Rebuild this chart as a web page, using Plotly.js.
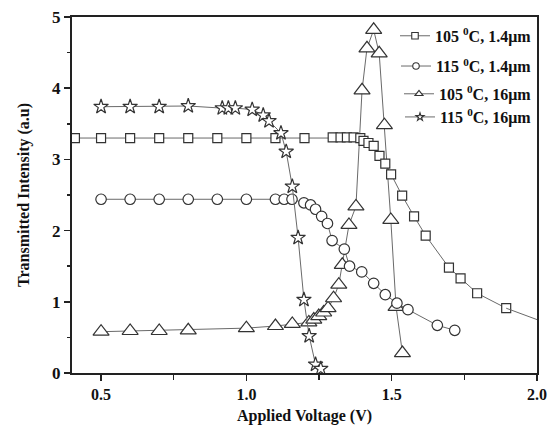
<!DOCTYPE html>
<html>
<head>
<meta charset="utf-8">
<script src="https://cdn.plot.ly/plotly-3.0.1.min.js"></script>
<style>html,body{margin:0;padding:0;background:#fff;}#chart{width:550px;height:437px;}</style>
</head>
<body>
<div id="chart"></div>
<script>
// Series names
var names = ["105 <sup>0</sup>C, 1.4\u03bcm", "115 <sup>0</sup>C, 1.4\u03bcm", "105 <sup>0</sup>C, 16\u03bcm", "115 <sup>0</sup>C, 16\u03bcm"];

// 105 C, 1.4um (squares)
var sqX = [0.41,0.5,0.6,0.7,0.8,0.9,1.0,1.1,1.2,1.297,1.324,1.346,1.369,1.392,1.403,1.42,1.438,1.458,1.478,1.498,1.536,1.577,1.617,1.697,1.737,1.794,1.894];
var sqY = [3.3,3.3,3.3,3.3,3.3,3.3,3.3,3.3,3.3,3.31,3.31,3.31,3.31,3.30,3.26,3.23,3.19,3.05,2.94,2.79,2.49,2.20,1.93,1.48,1.33,1.12,0.91];
// fitted line continuation past last square
var sqTailX = [1.894, 2.0];
var sqTailY = [0.91, 0.75];

// 115 C, 1.4um (circles)
var ciX = [0.5,0.6,0.7,0.8,0.9,1.0,1.1,1.13,1.157,1.198,1.221,1.238,1.259,1.279,1.295,1.337,1.355,1.397,1.438,1.478,1.518,1.556,1.657,1.717];
var ciY = [2.44,2.44,2.44,2.44,2.44,2.44,2.44,2.44,2.44,2.39,2.36,2.30,2.20,2.10,1.86,1.74,1.50,1.42,1.26,1.10,0.98,0.89,0.67,0.60];

// 105 C, 16um (triangles)
var trX = [0.5,0.6,0.7,0.8,1.0,1.1,1.158,1.215,1.232,1.249,1.266,1.281,1.30,1.318,1.33,1.353,1.377,1.398,1.415,1.438,1.457,1.475,1.497,1.515,1.537];
var trY = [0.58,0.59,0.59,0.60,0.63,0.66,0.69,0.71,0.75,0.80,0.85,0.91,1.05,1.24,1.52,2.08,2.34,3.97,4.56,4.82,4.49,3.48,2.15,0.93,0.28];

// 115 C, 16um (stars)
var stX = [0.5,0.6,0.7,0.8,0.917,0.938,0.962,1.02,1.058,1.078,1.119,1.137,1.158,1.178,1.198,1.216,1.238,1.256];
var stY = [3.74,3.74,3.74,3.75,3.72,3.72,3.72,3.70,3.62,3.54,3.37,3.11,2.62,1.90,1.03,0.52,0.12,0.06];

var xTickVals = [0.5,1.0,1.5,2.0];
var xTickText = ["0.5","1.0","1.5","2.0"];
var yTickVals = [0,1,2,3,4,5];
var yTickText = ["0","1","2","3","4","5"];

var FONT = "Liberation Serif, Times New Roman, serif";
var lineC = "#6a6a6a", mkC = "#333";

function main(x, y, sym, size){
  return {x:x, y:y, type:"scatter", mode:"lines+markers", showlegend:false,
    line:{color:lineC, width:1},
    marker:{symbol:sym, size:size, color:"#fff", line:{color:mkC, width:1.2}}};
}
function leg(name, sym, size, lg){
  return {x:[null], y:[null], type:"scatter", mode:"lines+markers", name:name, legend:lg, showlegend:true,
    line:{color:lineC, width:1},
    marker:{symbol:sym, size:size, color:"#fff", line:{color:mkC, width:1.1}}};
}

var data = [
  main(trX, trY, "triangle-up", 14),
  main(sqX, sqY, "square", 9),
  {x:sqTailX, y:sqTailY, type:"scatter", mode:"lines", showlegend:false, line:{color:lineC, width:1}},
  main(ciX, ciY, "circle", 10.5),
  main(stX, stY, "star", 11),
  leg(names[0], "square", 6.5, "legend"),
  leg(names[1], "circle", 6.5, "legend2"),
  leg(names[2], "triangle-up", 7, "legend3"),
  leg(names[3], "star", 6, "legend4")
];

function lg(y){
  return {x:1.0, xanchor:"right", y:y, yanchor:"middle", bgcolor:"rgba(0,0,0,0)",
    font:{family:FONT, size:16, color:"#111", weight:"bold"}};
}

var layout = {
  width:550, height:437,
  margin:{l:72, r:13, t:17, b:64},
  paper_bgcolor:"#fff", plot_bgcolor:"#fff",
  xaxis:{range:[0.4,2.0], tickvals:xTickVals, ticktext:xTickText, ticks:"outside", ticklen:6, tickwidth:1.5, tickcolor:"#222",
    minor:{dtick:0.25, tick0:0, ticks:"outside", ticklen:5, tickwidth:1.5, tickcolor:"#222"},
    showline:true, linecolor:"#222", linewidth:2, mirror:true, showgrid:false, zeroline:false,
    tickfont:{family:FONT, size:16, color:"#111", weight:"bold"},
    title:{text:"Applied Voltage (V)", font:{family:FONT, size:16, color:"#111", weight:"bold"}, standoff:8}},
  yaxis:{range:[0,5], tickvals:yTickVals, ticktext:yTickText, ticks:"outside", ticklen:6, tickwidth:1.5, tickcolor:"#222",
    minor:{dtick:0.5, tick0:0, ticks:"outside", ticklen:3, tickwidth:1.5, tickcolor:"#222"},
    showline:true, linecolor:"#222", linewidth:2, mirror:true, showgrid:false, zeroline:false,
    tickfont:{family:FONT, size:17, color:"#111", weight:"bold"},
    title:{text:"Transmitted Intensity (a.u)", font:{family:FONT, size:16, color:"#111", weight:"bold"}, standoff:18}},
  legend: lg(0.947),
  legend2: lg(0.862),
  legend3: lg(0.784),
  legend4: lg(0.719)
};

Plotly.newPlot("chart", data, layout, {staticPlot:true, displayModeBar:false});
</script>
</body>
</html>
